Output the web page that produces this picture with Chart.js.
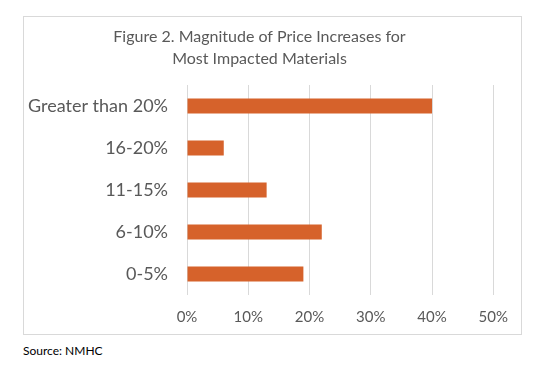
<!DOCTYPE html>
<html>
<head>
<meta charset="utf-8">
<script src="https://cdn.jsdelivr.net/npm/chart.js@4"></script>
<style>
    body { margin: 0; background: #fff; width: 547px; height: 367px; position: relative; overflow: hidden; }
    #box { position: absolute; left: 23px; top: 16px; width: 497px; height: 317px; border: 1px solid #d9d9d9; }
    #source { position: absolute; left: 23px; top: 343px; font: 12px Lato, sans-serif; color: #000; }
</style>
</head>
<body>
<div id="box"><canvas id="chart" width="497" height="317"></canvas></div>
<div id="source">Source: NMHC</div>
<script>
// Данные графика
const categories = ['Greater than 20%', '16-20%', '11-15%', '6-10%', '0-5%'];
const values = [40, 6, 13, 22, 19];
const xTicks = [0, 10, 20, 30, 40, 50];

const textColor = '#595959';
const fontFamily = 'Lato, "Open Sans", sans-serif';

const ctx = document.getElementById('chart');
new Chart(ctx, {
    type: 'bar',
    data: {
        labels: categories,
        datasets: [{
            data: values,
            backgroundColor: '#D6622B',
            borderWidth: 0,
            categoryPercentage: 1,
            barPercentage: 0.36
        }]
    },
    options: {
        indexAxis: 'y',
        responsive: false,
        animation: false,
        layout: { padding: { left: 0, right: 26, top: 0, bottom: 0 } },
        plugins: {
            legend: { display: false },
            tooltip: { enabled: false },
            title: {
                display: true,
                text: ['Figure 2. Magnitude of Price Increases for', 'Most Impacted Materials'],
                color: textColor,
                font: { family: fontFamily, size: 16, weight: 'normal', lineHeight: 1.375 },
                padding: { top: 9, bottom: 15 }
            }
        },
        scales: {
            x: {
                min: 0,
                max: 50,
                afterBuildTicks: (scale) => {
                    scale.ticks = xTicks.map(v => ({ value: v }));
                },
                afterFit: (scale) => { scale.height = 39; },
                border: { display: false },
                grid: { color: '#d9d9d9', drawTicks: false },
                ticks: {
                    padding: 13,
                    color: textColor,
                    font: { family: fontFamily, size: 15 },
                    callback: (v) => v + '%'
                }
            },
            y: {
                afterFit: (scale) => { scale.width = 163; },
                border: { display: false },
                grid: { display: false, drawTicks: false },
                ticks: {
                    padding: 19,
                    color: textColor,
                    font: { family: fontFamily, size: 18 }
                }
            }
        }
    }
});
</script>
</body>
</html>
